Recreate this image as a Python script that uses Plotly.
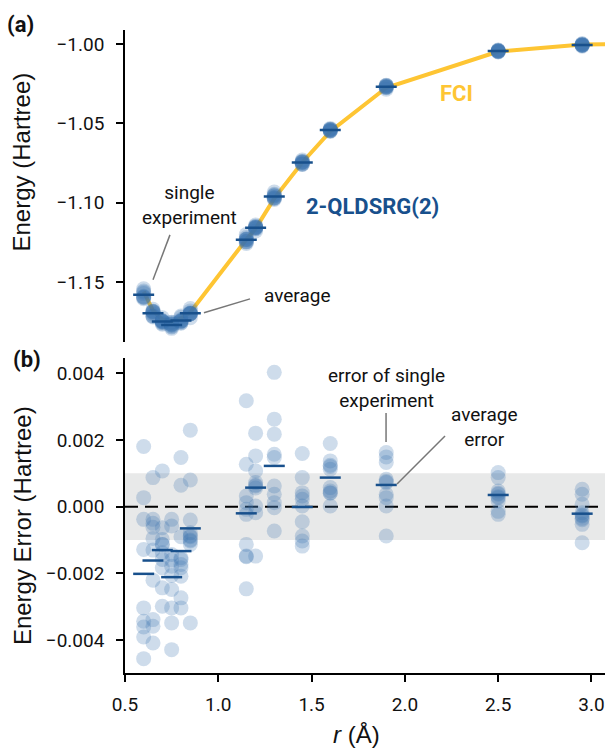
import plotly.graph_objects as go

# ---------------- data ----------------
r_points = [0.6, 0.65, 0.7, 0.75, 0.8, 0.85, 1.15, 1.2, 1.3, 1.45, 1.6, 1.9, 2.5, 2.95]
fci_energy = [-1.1560, -1.1680, -1.1736, -1.1749, -1.1729, -1.1690, -1.1232,
              -1.1163, -1.0973, -1.0747, -1.0551, -1.0276, -1.0048, -1.0004]
fci_extra_r = [3.1]
fci_extra_energy = [-1.0002]

# errors of single experiments (mHartree), one list per bond length
err_060 = [1.80, 0.27, -0.38, -1.28, -3.03, -3.43, -3.60, -3.90, -4.55]
err_065 = [0.87, -0.38, -0.50, -0.62, -0.95, -1.30, -2.20, -3.38, -3.58, -4.08]
err_070 = [1.07, -0.63, -0.98, -1.13, -1.38, -1.58, -1.83, -2.43, -2.98, -1.13]
err_075 = [-0.38, -0.58, -1.43, -1.60, -1.78, -2.48, -3.03, -3.48, -4.28, -2.06]
err_080 = [1.47, 0.64, -0.90, -1.53, -1.73, -1.83, -2.08, -2.73, -3.03, -1.58]
err_085 = [2.29, 0.80, -0.40, -0.78, -1.03, -1.13, -3.48, -0.90, -1.00, -0.87]
err_115 = [3.17, 1.27, 0.32, 0.12, -0.23, -1.13, -1.48, -2.46, -1.50, -0.08]
err_120 = [2.20, 1.52, 1.07, 0.72, 0.62, 0.02, -0.18, -1.48, 0.65, 0.56]
err_130 = [4.02, 2.62, 2.17, 1.57, 0.62, 0.37, 0.12, -0.03, -0.73, 1.47]
err_145 = [1.59, 0.87, 0.42, 0.32, 0.02, -0.45, -0.88, -1.03, -1.18, 0.22]
err_160 = [1.89, 1.37, 1.24, 1.12, 0.57, 0.42, 0.02, 1.20, 0.47, 0.40]
err_190 = [1.62, 1.49, 1.32, 0.82, 0.37, 0.27, 0.02, -0.88, 0.75, 0.72]
err_250 = [1.02, 0.87, 0.47, 0.37, 0.27, 0.17, -0.23, 0.40, 0.30, -0.14]
err_295 = [0.52, 0.37, 0.07, -0.18, -0.28, -0.53, -1.08, -0.25, -0.35, -0.39]
errors_mHa = [err_060, err_065, err_070, err_075, err_080, err_085, err_115,
              err_120, err_130, err_145, err_160, err_190, err_250, err_295]

top_yticks = [-1.00, -1.05, -1.10, -1.15]
bot_yticks = [0.004, 0.002, 0.0, -0.002, -0.004]
x_ticks = [0.5, 1.0, 1.5, 2.0, 2.5, 3.0]

# ---------------- derived ----------------
xs, ys_top, ys_bot = [], [], []
for ri, Ei, errs in zip(r_points, fci_energy, errors_mHa):
    for e in errs:
        xs.append(ri)
        ys_top.append(Ei + e * 1e-3)
        ys_bot.append(e * 1e-3)
avg_err = [sum(e) / len(e) * 1e-3 for e in errors_mHa]
avg_top = [E + a for E, a in zip(fci_energy, avg_err)]

BLUE = "rgba(58,116,176,0.25)"
DARK = "#18508c"
YELLOW = "#fec533"
GREY = "#777777"
FONT = "Roboto"
TFONT = "Liberation Sans"

fig = go.Figure()
fig.add_trace(go.Scatter(x=r_points + fci_extra_r, y=fci_energy + fci_extra_energy,
                         mode="lines", line=dict(color=YELLOW, width=4),
                         xaxis="x", yaxis="y", hoverinfo="skip"))
fig.add_trace(go.Scatter(x=xs, y=ys_top, mode="markers",
                         marker=dict(size=15, color=BLUE, line=dict(width=0)),
                         xaxis="x", yaxis="y"))
fig.add_trace(go.Scatter(x=r_points, y=avg_top, mode="markers",
                         marker=dict(symbol="line-ew", size=15,
                                     line=dict(color=DARK, width=2.5)),
                         xaxis="x", yaxis="y"))
fig.add_trace(go.Scatter(x=xs, y=ys_bot, mode="markers",
                         marker=dict(size=15, color=BLUE, line=dict(width=0)),
                         xaxis="x", yaxis="y2"))
fig.add_trace(go.Scatter(x=r_points, y=avg_err, mode="markers",
                         marker=dict(symbol="line-ew", size=15,
                                     line=dict(color=DARK, width=2.5)),
                         xaxis="x", yaxis="y2"))

shapes = [
    dict(type="rect", xref="x domain", yref="y2", x0=0, x1=1, y0=-0.001, y1=0.001,
         fillcolor="#e8e9e9", line=dict(width=0), layer="below"),
    dict(type="line", xref="x domain", yref="y2", x0=0, x1=1, y0=0, y1=0,
         line=dict(color="black", width=2, dash="13px,7px"), layer="below"),
    dict(type="line", xref="x", yref="y", x0=0.741, y0=-1.1203, x1=0.650, y1=-1.1486,
         line=dict(color=GREY, width=1.5)),
    dict(type="line", xref="x", yref="y", x0=0.923, y0=-1.1694, x1=1.170, y1=-1.1606,
         line=dict(color=GREY, width=1.5)),
    dict(type="line", xref="x", yref="y2", x0=1.899, y0=0.002805, x1=1.899, y1=0.001937,
         line=dict(color=GREY, width=1.5)),
    dict(type="line", xref="x", yref="y2", x0=2.215, y0=0.002117, x1=1.958, y1=0.00068,
         line=dict(color=GREY, width=1.5)),
]

ann_font = dict(family=FONT, size=19, color="#111")
C = dict(xanchor="center", yanchor="middle", showarrow=False)
annotations = [
    dict(text="single<br>experiment", x=0.843, y=-1.1013, xref="x", yref="y",
         font=ann_font, **C),
    dict(text="average", x=1.234, y=-1.1587, xref="x", yref="y", xanchor="left",
         yanchor="middle", showarrow=False, font=ann_font),
    dict(text="<b>FCI</b>", x=2.279, y=-1.0309, xref="x", yref="y",
         font=dict(family=FONT, size=22, color=YELLOW), **C),
    dict(text="<b>2-QLDSRG(2)</b>", x=1.829, y=-1.1026, xref="x", yref="y",
         font=dict(family=FONT, size=22, color=DARK), **C),
    dict(text="error of single<br>experiment", x=1.904, y=0.003554, xref="x", yref="y2",
         font=ann_font, **C),
    dict(text="average<br>error", x=2.429, y=0.002386, xref="x", yref="y2",
         font=ann_font, **C),
    dict(text="<b>(a)</b>", x=-0.2167, y=1.0093, xref="paper", yref="paper",
         font=dict(family=FONT, size=22, color="#111"), **C),
    dict(text="<b>(b)</b>", x=-0.204, y=0.4883, xref="paper", yref="paper",
         font=dict(family=FONT, size=22, color="#111"), **C),
    dict(text="Energy (Hartree)", x=-0.2146, y=0.7955, xref="paper", yref="paper",
         textangle=-90, font=dict(family=TFONT, size=24, color="#111"), **C),
    dict(text="Energy Error (Hartree)", x=-0.2146, y=0.230, xref="paper", yref="paper",
         textangle=-90, font=dict(family=TFONT, size=24, color="#111"), **C),
    dict(text="<i>r</i> (Å)", x=0.483, y=-0.0955, xref="paper", yref="paper",
         font=dict(family=TFONT, size=24, color="#111"), **C),
]

axis_common = dict(showline=True, linecolor="black", linewidth=1.6, ticks="outside",
                   ticklen=7, tickwidth=1.5, tickcolor="black", showgrid=False,
                   zeroline=False, automargin=False,
                   tickfont=dict(family=FONT, size=19, color="#111"))

fig.update_layout(
    width=605, height=749,
    margin=dict(l=125, r=0, t=30, b=76, autoexpand=False),
    paper_bgcolor="white", plot_bgcolor="white",
    showlegend=False,
    xaxis=dict(domain=[0, 1], anchor="y2", range=[0.5, 3.0724], tickvals=x_ticks,
               ticktext=["0.5", "1.0", "1.5", "2.0", "2.5", "3.0"],
               ticklabelstandoff=6, **axis_common),
    yaxis=dict(domain=[0.515, 1], anchor="x", range=[-1.1877, -0.9912],
               tickvals=top_yticks, tickformat=".2f", ticklabelstandoff=8, **axis_common),
    yaxis2=dict(domain=[0, 0.49], anchor="x", range=[-0.004979, 0.004452],
                tickvals=bot_yticks, tickformat=".3f", ticklabelstandoff=8, **axis_common),
    shapes=shapes,
    annotations=annotations,
)

fig.write_html("out.html", config={"displayModeBar": False},
               post_script="document.body.style.margin='0px';")
